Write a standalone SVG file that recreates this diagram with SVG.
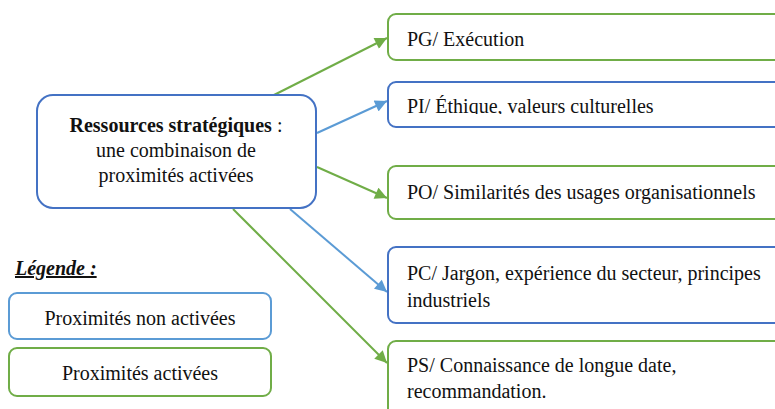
<svg xmlns="http://www.w3.org/2000/svg" width="775" height="409" viewBox="0 0 775 409">
<style>
text{font-family:"Liberation Serif","Times New Roman",serif;font-size:20px;fill:#111}
.g{fill:#fff;stroke:#70AD47;stroke-width:2}
.b{fill:#fff;stroke:#4472C4;stroke-width:2}
.lb{fill:#fff;stroke:#5B9BD5;stroke-width:2}
.cg{stroke:#70AD47;stroke-width:2;fill:none}
.cb{stroke:#5B9BD5;stroke-width:2;fill:none}
</style>
<defs>
<marker id="ag" viewBox="0 0 10 10" refX="10" refY="5" markerWidth="6.5" markerHeight="6" markerUnits="strokeWidth" orient="auto"><path d="M0,0L10,5L0,10z" fill="#70AD47"/></marker>
<marker id="ab" viewBox="0 0 10 10" refX="10" refY="5" markerWidth="6.5" markerHeight="6" markerUnits="strokeWidth" orient="auto"><path d="M0,0L10,5L0,10z" fill="#5B9BD5"/></marker>
<clipPath id="clipPI"><rect x="388" y="82" width="400" height="32"/></clipPath>
</defs>
<g id="connectors">
<line class="cg" x1="272" y1="96" x2="387" y2="38" marker-end="url(#ag)"/>
<line class="cb" x1="317" y1="133" x2="387" y2="101" marker-end="url(#ab)"/>
<line class="cg" x1="317" y1="167" x2="387" y2="198" marker-end="url(#ag)"/>
<line class="cb" x1="290" y1="209" x2="387" y2="292" marker-end="url(#ab)"/>
<line class="cg" x1="233" y1="209" x2="387" y2="363" marker-end="url(#ag)"/>
</g>
<g id="center">
<rect class="b" x="37" y="95" width="279" height="113" rx="16"/>
<text x="176" y="132" text-anchor="middle"><tspan font-weight="bold">Ressources stratégiques</tspan> :</text>
<text x="176" y="157" text-anchor="middle">une combinaison de</text>
<text x="176" y="182" text-anchor="middle">proximités activées</text>
</g>
<g id="pg">
<rect class="g" x="388" y="14" width="400" height="46" rx="8"/>
<text x="407" y="46">PG/ Exécution</text>
</g>
<g id="pi">
<rect class="b" x="388" y="82" width="400" height="45" rx="8"/>
<text x="407" y="113" clip-path="url(#clipPI)">PI/ Éthique, valeurs culturelles</text>
</g>
<g id="po">
<rect class="g" x="388" y="166" width="400" height="53" rx="8"/>
<text x="407" y="199">PO/ Similarités des usages organisationnels</text>
</g>
<g id="pc">
<rect class="b" x="388" y="247" width="400" height="76" rx="8"/>
<text x="407" y="280">PC/ Jargon, expérience du secteur, principes</text>
<text x="407" y="307">industriels</text>
</g>
<g id="ps">
<rect class="g" x="388" y="341" width="400" height="90" rx="8"/>
<text x="407" y="372">PS/ Connaissance de longue date,</text>
<text x="407" y="398">recommandation.</text>
</g>
<g id="legend">
<text x="15" y="275" font-weight="bold" font-style="italic" text-decoration="underline">Légende :</text>
<rect class="lb" x="9" y="293" width="262" height="46" rx="8"/>
<text x="140" y="325" text-anchor="middle">Proximités non activées</text>
<rect class="g" x="9" y="348" width="262" height="48" rx="8"/>
<text x="140" y="380" text-anchor="middle">Proximités activées</text>
</g>
</svg>
